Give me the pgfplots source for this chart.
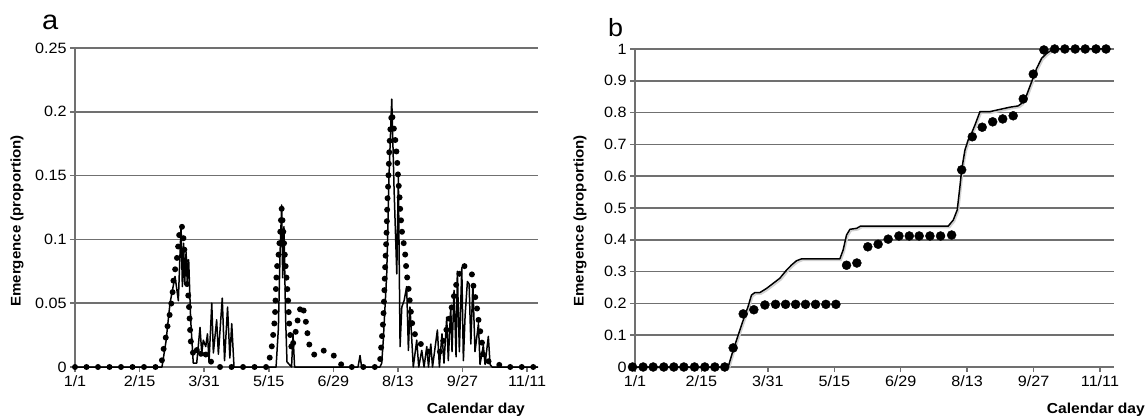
\documentclass[border=0pt]{standalone}
\usepackage{fontspec}
\setmainfont{Liberation Sans}[FakeStretch=1.08]
\usepackage{pgfplots}
\usepackage{pgfplotstable}
\pgfplotsset{compat=1.18}
\definecolor{gridgray}{RGB}{112,112,112}
\newcommand\tickfont{\fontsize{15}{18}\selectfont}

% Panel a: day (0 = 1/1), emergence proportion
\pgfplotstableread{
d v
0 0
59.2 0
60.4 0.004
62.0 0.016
63.4 0.024
64.3 0.031
65.7 0.039
66.7 0.047
67.8 0.055
68.5 0.067
69.7 0.076
70.9 0.084
71.6 0.091
72.5 0.103
74.4 0.111
75.5 0.102
76.7 0.085
77.8 0.068
79.0 0.055
79.7 0.042
80.1 0.031
80.6 0.021
81.3 0.015
82.9 0.008
85.9 0.016
89.2 0.006
91.8 0.011
95.3 0.003
98.0 0
134.5 0
137.1 0.016
138.7 0.031
139.4 0.042
139.9 0.059
140.6 0.077
141.7 0.086
142.9 0.104
144.0 0.124
145.2 0.105
146.3 0.086
147.5 0.068
148.6 0.05
149.3 0.033
151.0 0.013
152.6 0.022
154.5 0.031
155.6 0.041
157.9 0.049
159.1 0.045
160.3 0.041
161.3 0.031
162.6 0.022
163.8 0.014
167.2 0.009
170.0 0.011
173.0 0.013
176.3 0.011
179.6 0.010
184.2 0.003
188.2 0
211.1 0
212.5 0.004
213.7 0.021
214.8 0.037
215.5 0.058
216.0 0.076
216.7 0.094
217.2 0.11
217.6 0.128
218.3 0.146
218.8 0.164
219.5 0.183
220.7 0.2
221.8 0.19
223.0 0.18
224.2 0.166
225.3 0.146
226.0 0.136
226.5 0.125
227.7 0.107
228.8 0.099
230.0 0.089
231.1 0.073
232.3 0.063
233.4 0.05
234.6 0.037
235.7 0.028
239.2 0.021
243.9 0.013
249.7 0.011
254.4 0.012
256.7 0.021
259.0 0.03
260.8 0.038
262.5 0.047
264.1 0.056
265.7 0.065
267.8 0.073
270.4 0.08
273.5 0.077
276.4 0.074
277.4 0.065
278.7 0.056
280.0 0.047
281.0 0.038
282.2 0.029
283.4 0.021
284.1 0.012
284.7 0.005
291.5 0.004
298.5 0
322.6 0
}\dotteda

\pgfplotstableread{
d v
0 0
60.6 0
63.4 0.02
66.2 0.05
69.7 0.071
72.0 0.052
73.9 0.111
74.8 0.063
75.7 0.097
76.4 0.065
77.4 0.09
78.2 0.066
79.2 0.084
80.6 0.037
82.4 0.003
84.8 0.003
87.1 0.031
88.3 0.011
89.4 0.021
91.1 0.016
92.3 0.026
93.4 0.004
95.3 0.05
96.4 0.011
98.7 0.037
99.9 0.01
102.6 0.054
104.2 0.005
106.3 0.047
107.9 0.007
109.2 0.034
110.8 0
140.1 0
141.7 0.03
142.9 0.09
144.0 0.127
144.7 0.07
145.6 0.11
146.7 0.04
147.7 0.004
150.9 0
151.9 0.026
153.0 0
197.2 0
198.6 0.009
199.7 0
212.5 0
213.7 0.003
214.8 0.021
217.2 0.073
218.8 0.15
220.7 0.21
222.3 0.14
224.2 0.073
225.3 0.149
226.5 0.016
227.7 0.047
229.3 0.052
231.1 0.063
232.3 0.013
233.4 0.047
235.7 0
238.1 0.021
239.5 0
241.6 0.013
243.2 0
245.1 0.016
246.3 0
247.9 0.018
249.1 0
252.5 0.029
253.9 0
255.7 0.026
257.1 0.003
259.0 0.039
260.1 0.005
261.8 0.047
262.7 0.012
264.1 0.06
265.5 0.008
266.4 0.075
267.8 0.012
269.5 0.078
270.6 0.005
271.8 0.04
273.4 0.067
274.6 0.065
275.8 0.018
277.2 0.065
278.7 0.012
281.1 0.034
282.2 0.002
284.5 0.017
285.7 0.002
288.0 0.024
289.2 0.002
290.6 0
322.6 0
}\solida

% Panel b: cumulative emergence
\pgfplotstableread{
d v
-1.7 0
5.5 0
12.3 0
19.5 0
26.3 0
33.1 0
40.3 0
47.3 0
54.1 0
60.8 0
66.5 0.06
73.3 0.167
80.5 0.18
88.0 0.195
95.2 0.197
102.0 0.197
108.8 0.197
115.5 0.197
122.3 0.197
129.3 0.197
136.1 0.197
143.3 0.32
150.3 0.327
157.7 0.378
164.7 0.386
171.5 0.402
178.8 0.412
185.8 0.412
192.5 0.412
199.8 0.412
207.0 0.412
214.5 0.415
221.3 0.62
228.5 0.724
235.2 0.754
242.3 0.771
249.1 0.78
256.2 0.79
263.0 0.843
269.8 0.921
277.0 0.997
284.3 1
291.2 1
298.2 1
305.0 1
312.3 1
319.1 1
}\dotsb

\pgfplotstableread{
d v
0 0
63.1 0
66.5 0.053
73.3 0.147
76.6 0.19
78.9 0.226
81.2 0.234
84.6 0.234
89.1 0.247
93.6 0.263
98.1 0.279
102.7 0.305
106.1 0.321
109.4 0.334
112.8 0.34
138.8 0.34
141.0 0.368
143.3 0.415
145.6 0.433
150.1 0.436
152.8 0.443
212.2 0.443
215.6 0.462
218.3 0.494
220.1 0.567
221.3 0.62
223.5 0.682
225.7 0.714
228.0 0.735
230.3 0.761
233.7 0.803
240.4 0.803
247.2 0.81
254.0 0.817
259.6 0.821
261.9 0.829
265.3 0.855
268.7 0.897
272.1 0.939
275.5 0.971
278.9 0.986
282.3 0.997
285.6 1.0
319.0 1.0
}\lineb

\pgfplotsset{
  common/.style={
    scale only axis,
    axis x line*=bottom,
    axis y line*=left,
    axis line style={draw=gridgray, line width=1.5bp, -},
    ymajorgrids,
    grid style={draw=gridgray, line width=1.5bp},
    tick align=outside,
    major tick length=5bp,
    tick style={draw=gridgray, line width=1.5bp},
    xtick={0,45,90,135,180,225,270,315},
    xticklabels={1/1,2/15,3/31,5/15,6/29,8/13,9/27,11/11},
    ticklabel style={font=\tickfont},
    scaled ticks=false,
    xmin=0,
    clip=false,
  },
}

\begin{document}
\begin{tikzpicture}
\useasboundingbox (0bp,0bp) rectangle (1148bp,418bp);

% ---------------- panel a ----------------
\begin{axis}[common,
  at={(75bp,51bp)}, anchor=south west,
  width=463bp, height=319bp,
  xmax=322.6, ymin=0, ymax=0.25,
  ytick={0,0.05,0.1,0.15,0.2,0.25},
  yticklabels={0,0.05,0.1,0.15,0.2,0.25},
]
\addplot[black, line width=6bp, line cap=round, dash pattern=on 0bp off 11.5bp] table[x=d,y=v]{\dotteda};
\addplot[black, line width=1.5bp, line join=round] table[x=d,y=v]{\solida};
\end{axis}

% ---------------- panel b ----------------
\begin{axis}[common,
  at={(635bp,51bp)}, anchor=south west,
  width=479bp, height=318bp,
  xmax=324.5, ymin=0, ymax=1,
  ytick={0,0.1,0.2,0.3,0.4,0.5,0.6,0.7,0.8,0.9,1},
  yticklabels={0,0.1,0.2,0.3,0.4,0.5,0.6,0.7,0.8,0.9,1},
]
\addplot[black!18, line width=1.6bp, shift={(1.2bp,-1.5bp)}] table[x=d,y=v]{\lineb};
\addplot[black, line width=1.5bp, line join=round] table[x=d,y=v]{\lineb};
\addplot[only marks, mark=*, mark size=4.5bp, black] table[x=d,y=v]{\dotsb};
\end{axis}

% labels
\node[font=\fontsize{27}{27}\selectfont, anchor=base west, inner sep=0] at (42bp,388.5bp) {a};
\node[font=\fontsize{25}{25}\selectfont, anchor=base west, inner sep=0] at (608bp,381.3bp) {b};
\node[font=\bfseries\fontsize{14}{16}\selectfont, rotate=90, inner sep=0] at (17bp,197bp) {Emergence (proportion)};
\node[font=\bfseries\fontsize{14}{16}\selectfont, rotate=90, inner sep=0] at (580bp,197bp) {Emergence (proportion)};
\node[font=\bfseries\fontsize{14.5}{16}\selectfont, anchor=east, inner sep=0] at (525bp,8bp) {Calendar day};
\node[font=\bfseries\fontsize{14.5}{16}\selectfont, anchor=east, inner sep=0] at (1145bp,8bp) {Calendar day};
\end{tikzpicture}
\end{document}
